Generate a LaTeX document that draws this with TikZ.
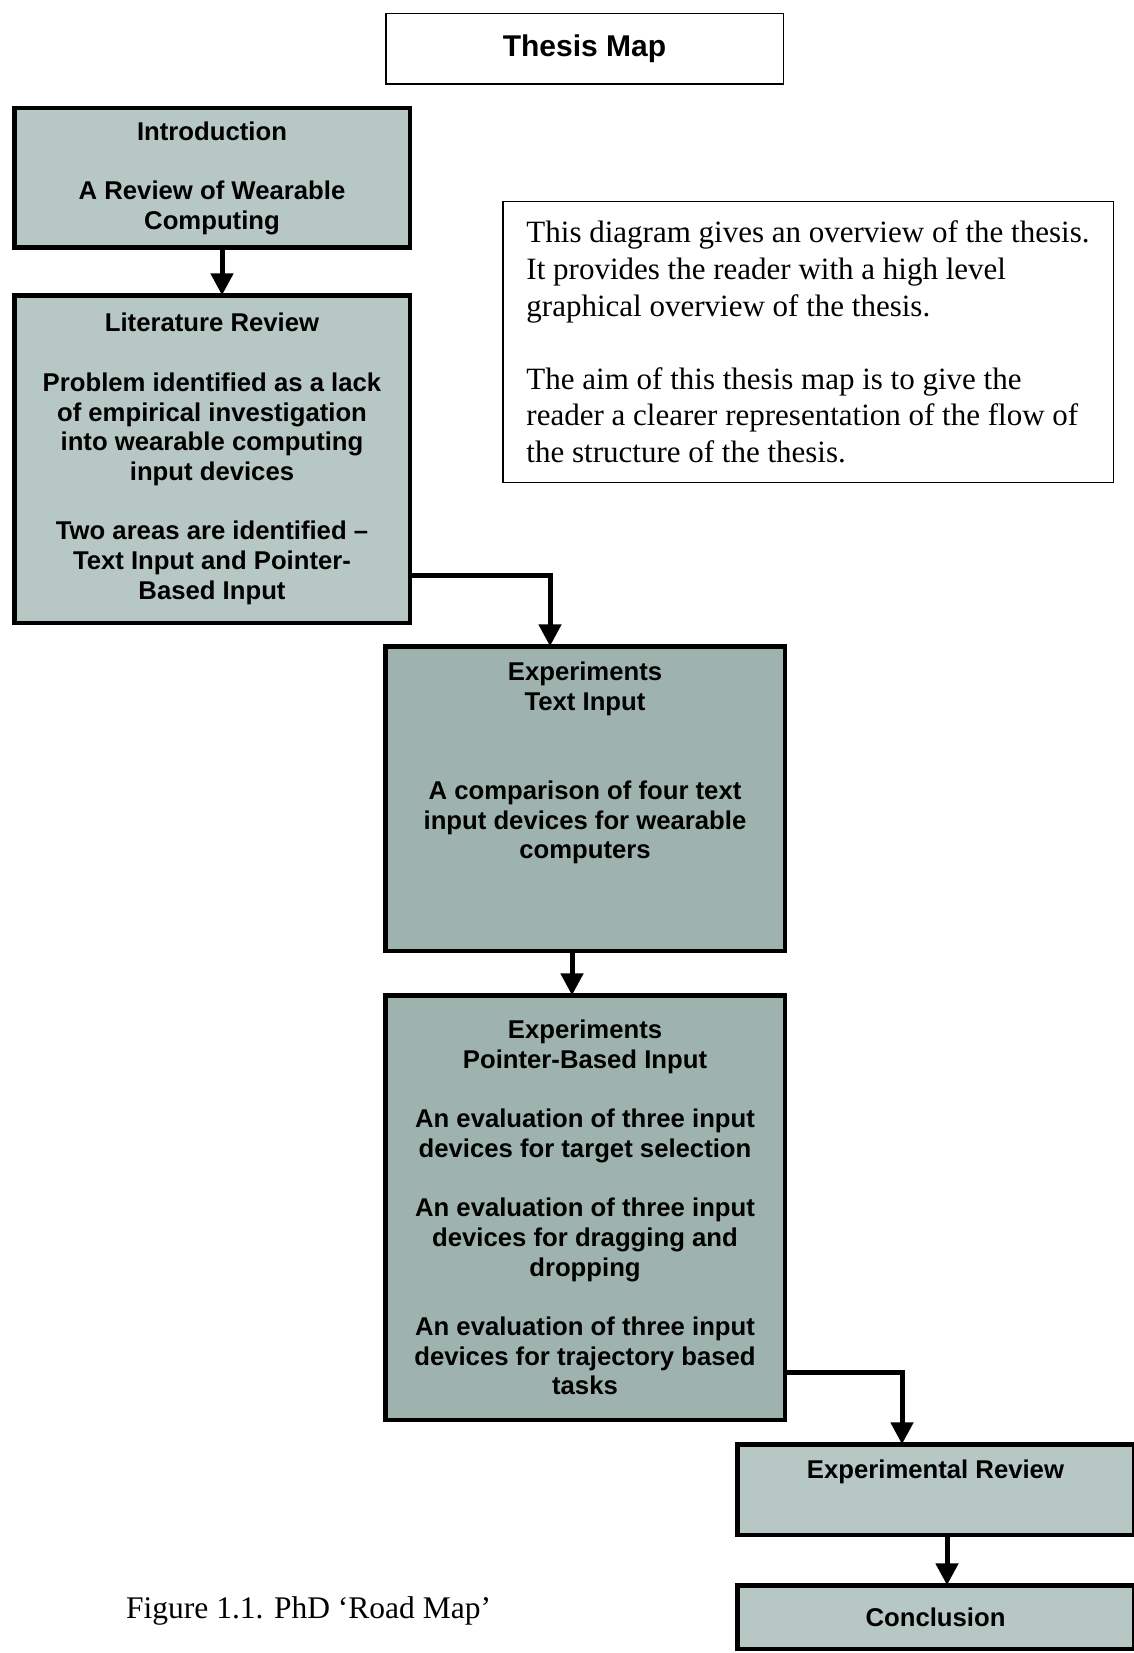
\documentclass[tikz,border=0pt]{standalone}
\usepackage{fontspec}
\setmainfont{Liberation Serif}
\setsansfont{Liberation Sans}
\usetikzlibrary{positioning,arrows.meta}
\definecolor{cajaclara}{RGB}{182,199,196}
\definecolor{cajaoscura}{RGB}{158,179,174}
\tikzset{
	titulo/.style={rectangle, draw=black, line width=1.5pt, fill=white, 
		inner sep=0pt, outer sep=0pt, font=\sffamily\bfseries\fontsize{30}{36}\selectfont, 
		minimum width=397.5pt, minimum height=70.5pt},
	capitulo/.style={rectangle, draw=black, line width=4.5pt, fill=cajaclara, 
		inner sep=0pt, outer sep=0pt, font=\sffamily\bfseries\fontsize{25.7}{29.7}\selectfont, 
		align=center},
	experimento/.style={capitulo, fill=cajaoscura, 
		minimum width=399.5pt},
	nota/.style={rectangle, draw=black, line width=1.5pt, inner sep=0pt, outer sep=0pt, 
		font=\rmfamily\fontsize{31}{36.6}\selectfont, align=left, 
		minimum width=610.5pt, minimum height=280.5pt},
	flecha/.style={line width=5pt, -{Triangle[length=22pt,width=22pt]}},
	pie/.style={font=\rmfamily\fontsize{31.5}{36}\selectfont, anchor=west, inner sep=0pt}
}

\begin{document}
\begin{tikzpicture}[x=1pt, y=-1pt, node distance=45pt]
			\useasboundingbox (0,0) rectangle (1134,1653);
			\node[titulo] (mapa) at (584.5,49) {Thesis Map};
			
			\node[capitulo, minimum width=395.5pt, minimum height=139.5pt] (intro) at (212,178)
				{Introduction\\[29.7pt]A Review of Wearable\\Computing};
			\node[capitulo, minimum width=395.5pt, minimum height=327.5pt, below=47.5pt of intro] (lit)
				{Literature Review\\[29.7pt]Problem identified as a lack\\of empirical investigation\\
				into wearable computing\\input devices\\[29.7pt]Two areas are identified –\\
				Text Input and Pointer-\\Based Input};
			
			\node[nota] (resumen) at (808,342)
				{This diagram gives an overview of the thesis.\\It provides the reader with a high level\\
				graphical overview of the thesis.\\[36.6pt]The aim of this thesis map is to give the\\
				reader a clearer representation of the flow of\\the structure of the thesis.};
			
			\node[experimento, minimum height=304.5pt] (texto) at (585,798.5)
				{Experiments\\Text Input\\[59.4pt]A comparison of four text\\input devices for wearable\\
				computers\\[46.7pt]\mbox{}};
			\node[experimento, minimum height=424.5pt, below=44.5pt of texto] (puntero)
				{Experiments\\Pointer-Based Input\\[29.7pt]An evaluation of three input\\
				devices for target selection\\[29.7pt]An evaluation of three input\\
				devices for dragging and\\dropping\\[29.7pt]An evaluation of three input\\
				devices for trajectory based\\tasks};
			
			\node[capitulo, minimum width=396.5pt, minimum height=90.5pt] (revision) at (935.5,1489.5)
				{Experimental Review\\[11pt]\mbox{}};
			\node[capitulo, minimum width=396.5pt, minimum height=63.5pt, below=50.5pt of revision] (concl)
				{Conclusion};
			
			\node[pie] (figura) at (126,1611) {Figure 1.1. PhD ‘Road Map’};
			
			% flujo entre capitulos
			\draw[flecha] ([xshift=10pt]intro.south) -- ([xshift=10pt]lit.north);
			\draw[flecha] ([yshift=-116pt]lit.east) -| ([xshift=-35pt]texto.north);
			\draw[flecha] ([xshift=-13pt]texto.south) -- ([xshift=-13pt]puntero.north);
			\draw[flecha] ([yshift=-164.5pt]puntero.east) -| ([xshift=-33.5pt]revision.north);
			\draw[flecha] ([xshift=11.5pt]revision.south) -- ([xshift=11.5pt]concl.north);
\end{tikzpicture}
\end{document}
